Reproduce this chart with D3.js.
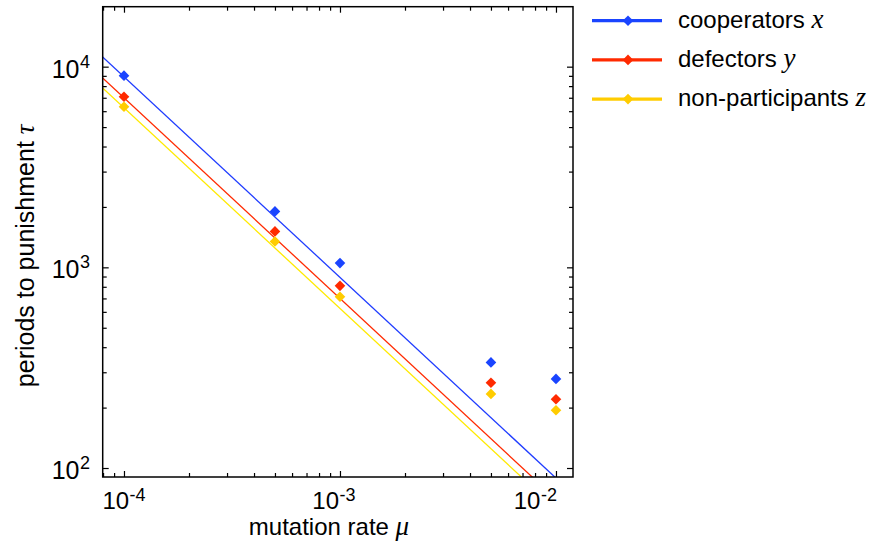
<!DOCTYPE html>
<html><head><meta charset="utf-8">
<script src="https://cdn.jsdelivr.net/npm/d3@7"></script>
<style>body{margin:0;background:#fff}</style></head>
<body><svg id="c" width="875" height="546"></svg>
<script>
// ---- data ----
const mutationRates = [1e-4, 5e-4, 1e-3, 5e-3, 1e-2];
const cooperators = [9020, 1900, 1050, 336, 278];
const defectors = [7080, 1510, 809, 266, 220];
const nonParticipants = [6310, 1346, 714, 234, 194];
const fitCoefficients = [0.891, 0.700, 0.624]; // fitted lines: tau = c / mu
const seriesNames = ["cooperators", "defectors", "non-participants"];
const seriesVars = ["x", "y", "z"];
const xTickExponents = [-4, -3, -2];
const yTickExponents = [2, 3, 4];
const xDomain = [7.97e-5, 0.01199];
const yDomain = [90.2, 19900];

const lineColors = ["#1f3cff", "#ff2a00", "#ffea00"];
const markerColors = ["#1a44ff", "#ff2a00", "#ffcc00"];
const legendColors = ["#1a44ff", "#ff2a00", "#ffcc00"];

const svg = d3.select("#c");
const L = 102.7, R = 573, T = 6.7, B = 477;
const x = d3.scaleLog().domain(xDomain).range([L, R]);
const y = d3.scaleLog().domain(yDomain).range([B, T]);
const font = "'Liberation Sans', Arial, Helvetica, sans-serif";
const serif = "'Liberation Serif', 'Times New Roman', serif";

const series = [cooperators, defectors, nonParticipants];

// clip
svg.append("defs").append("clipPath").attr("id", "clip")
  .append("rect").attr("x", L).attr("y", T).attr("width", R - L).attr("height", B - T);

// fit lines
const g = svg.append("g").attr("clip-path", "url(#clip)");
fitCoefficients.forEach((c, i) => {
  const xs = [xDomain[0] * 0.5, xDomain[1] * 2];
  g.append("path")
    .attr("d", d3.line().x(d => x(d)).y(d => y(c / d))(xs))
    .attr("fill", "none").attr("stroke", lineColors[i]).attr("stroke-width", 1.3);
});

// points
const diamond = d3.symbol().type(d3.symbolDiamond2).size(72);
series.forEach((vals, i) => {
  svg.append("g").selectAll("path").data(vals).join("path")
    .attr("d", diamond)
    .attr("transform", (d, j) => `translate(${x(mutationRates[j])},${y(d)})`)
    .attr("fill", markerColors[i]);
});

// axes with inward ticks
const xMajor = xTickExponents.map(e => Math.pow(10, e));
const yMajor = yTickExponents.map(e => Math.pow(10, e));
const xMinor = x.ticks().filter(v => !xMajor.some(m => Math.abs(m - v) / m < 1e-6));
const yMinor = y.ticks().filter(v => !yMajor.some(m => Math.abs(m - v) / m < 1e-6));

function addAxis(axisFn, scale, vals, size, tr) {
  const a = svg.append("g").attr("transform", tr)
    .call(axisFn(scale).tickValues(vals).tickSize(size).tickFormat(""));
  a.select(".domain").remove();
  a.selectAll("line").attr("stroke", "#000").attr("stroke-width", 1.2);
}
[[yMajor, 6], [yMinor, 4]].forEach(([v, s]) => {
  addAxis(d3.axisLeft, y, v, -s, `translate(${L},0)`);
  addAxis(d3.axisRight, y, v, -s, `translate(${R},0)`);
});
[[xMajor, 6], [xMinor, 4]].forEach(([v, s]) => {
  addAxis(d3.axisBottom, x, v, -s, `translate(0,${B})`);
  addAxis(d3.axisTop, x, v, -s, `translate(0,${T})`);
});

// frame
svg.append("rect").attr("x", L).attr("y", T).attr("width", R - L).attr("height", B - T)
  .attr("fill", "none").attr("stroke", "#000").attr("stroke-width", 1.5);

// tick labels
function pow10(sel, e, supSize, dy) {
  sel.append("tspan").text("10");
  sel.append("tspan").attr("font-size", supSize).attr("dy", dy).attr("dx", 0.5).text(e);
}
yTickExponents.forEach(e => {
  const t = svg.append("text").attr("x", 90).attr("y", y(Math.pow(10, e)) + 11)
    .attr("text-anchor", "end").attr("font-family", font).attr("font-size", 25).attr("fill", "#000");
  pow10(t, e, 18, -10);
});
xTickExponents.forEach((e, i) => {
  const px = x(Math.pow(10, e));
  const last = i === xTickExponents.length - 1;
  const t = svg.append("text").attr("x", i === 0 ? px : (last ? px + 1 : px - 6))
    .attr("y", 509).attr("text-anchor", last ? "end" : "middle")
    .attr("font-family", font).attr("font-size", 24).attr("fill", "#000");
  pow10(t, e, 18, -8);
});

// axis titles
const xt = svg.append("text").attr("x", 329).attr("y", 535).attr("text-anchor", "middle")
  .attr("font-family", font).attr("font-size", 24).attr("fill", "#000");
xt.append("tspan").text("mutation rate ");
xt.append("tspan").attr("font-family", serif).attr("font-style", "italic").attr("font-size", 27).text("μ");

const yt = svg.append("text").attr("transform", `translate(34,${(T + B) / 2 + 14}) rotate(-90)`)
  .attr("text-anchor", "middle").attr("font-family", font).attr("font-size", 25).attr("fill", "#000");
yt.append("tspan").text("periods to punishment ");
yt.append("tspan").attr("font-family", serif).attr("font-style", "italic").attr("font-size", 27).text("τ");

// legend
const legend = svg.append("g");
seriesNames.forEach((name, i) => {
  const ly = 20.7 + i * 39.2;
  legend.append("line").attr("x1", 592).attr("x2", 662).attr("y1", ly).attr("y2", ly)
    .attr("stroke", legendColors[i]).attr("stroke-width", 3.2);
  legend.append("path").attr("d", diamond).attr("transform", `translate(628,${ly})`)
    .attr("fill", legendColors[i]);
  const t = legend.append("text").attr("x", 678).attr("y", ly + 7)
    .attr("font-family", font).attr("font-size", 24).attr("fill", "#000");
  t.append("tspan").text(name + " ");
  t.append("tspan").attr("font-family", serif).attr("font-style", "italic").attr("font-size", 27).text(seriesVars[i]);
});
</script></body></html>
